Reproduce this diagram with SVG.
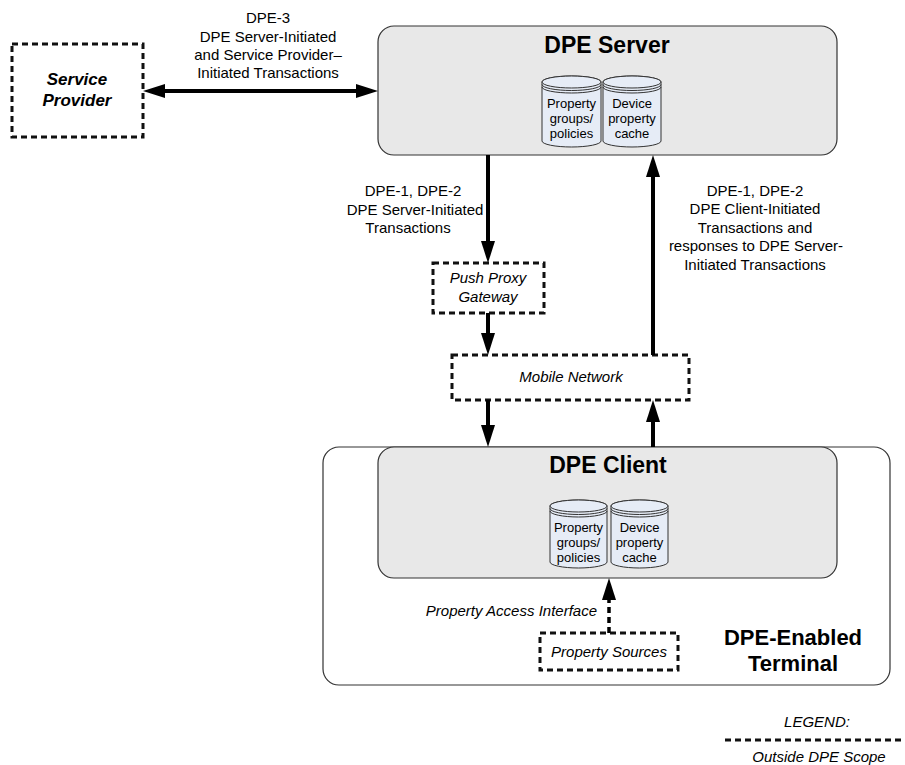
<svg xmlns="http://www.w3.org/2000/svg" width="905" height="765" viewBox="0 0 905 765">
<style>
text{font-family:"Liberation Sans",Arial,sans-serif;fill:#000}
.lbl{font-size:15px;text-anchor:middle}
.it{font-style:italic}
.title{font-size:23px;font-weight:bold;text-anchor:middle}
.title2{font-size:22px;font-weight:bold;text-anchor:middle}
.cyt{font-size:13px;text-anchor:middle}
.box{fill:#e8e8e8;stroke:#333;stroke-width:1.2}
.outer{fill:#fff;stroke:#333;stroke-width:1.2}
.dash{fill:#fff;stroke:#111;stroke-width:3;stroke-dasharray:6 4}
.cyl{fill:#e6ecf6;stroke:#333;stroke-width:1}
.cyl2{fill:none;stroke:#333;stroke-width:1}
.conn{stroke:#000;stroke-width:4;fill:none}
.dconn{stroke:#000;stroke-width:3.5;fill:none;stroke-dasharray:6 4}
</style>
<defs>
<marker id="ah" markerUnits="userSpaceOnUse" markerWidth="24" markerHeight="16" refX="2" refY="7" orient="auto-start-reverse">
<path d="M0,0 L22,7 L0,14 z" fill="#000"/>
</marker>
</defs>

<g id="terminal">
<rect class="outer" x="323" y="447" width="567" height="238" rx="16"/>
<text class="title2" x="793" y="645">DPE-Enabled</text>
<text class="title2" x="793" y="671">Terminal</text>
</g>

<g id="service-provider">
<rect class="dash" x="12" y="44" width="131" height="93"/>
<text x="77" y="85" style="font-size:17px;font-weight:bold;font-style:italic;text-anchor:middle">Service</text>
<text x="77" y="106" style="font-size:17px;font-weight:bold;font-style:italic;text-anchor:middle">Provider</text>
</g>

<g id="dpe-server">
<rect class="box" x="378" y="26" width="459" height="129" rx="16"/>
<text class="title" x="607" y="53">DPE Server</text>
<g id="server-db1">
<path class="cyl" d="M542,82 A29.5,6 0 0 1 601,82 L601,141 A29.5,6 0 0 1 542,141 Z"/>
<ellipse class="cyl" cx="571.5" cy="82" rx="29.5" ry="6"/>
<path class="cyl2" d="M542,84.5 A29.5,6 0 0 0 601,84.5 M542,87 A29.5,6 0 0 0 601,87"/>
<text class="cyt" x="571.5" y="108">Property</text>
<text class="cyt" x="571.5" y="123">groups/</text>
<text class="cyt" x="571.5" y="138">policies</text>
</g>
<g id="server-db2">
<path class="cyl" d="M603,82 A29,6 0 0 1 661,82 L661,141 A29,6 0 0 1 603,141 Z"/>
<ellipse class="cyl" cx="632" cy="82" rx="29" ry="6"/>
<path class="cyl2" d="M603,84.5 A29,6 0 0 0 661,84.5 M603,87 A29,6 0 0 0 661,87"/>
<text class="cyt" x="632" y="108">Device</text>
<text class="cyt" x="632" y="123">property</text>
<text class="cyt" x="632" y="138">cache</text>
</g>
</g>

<g id="push-proxy">
<rect class="dash" x="433" y="263" width="111" height="50"/>
<text class="lbl it" x="488" y="283">Push Proxy</text>
<text class="lbl it" x="488" y="302">Gateway</text>
</g>

<g id="mobile-network">
<rect class="dash" x="452" y="355" width="237" height="45"/>
<text class="lbl it" x="571" y="382">Mobile Network</text>
</g>

<g id="dpe-client">
<rect class="box" x="378" y="447" width="459" height="131" rx="16"/>
<text class="title" x="608" y="473">DPE Client</text>
<g id="client-db1">
<path class="cyl" d="M550,506 A28.5,6 0 0 1 607,506 L607,562 A28.5,6 0 0 1 550,562 Z"/>
<ellipse class="cyl" cx="578.5" cy="506" rx="28.5" ry="6"/>
<path class="cyl2" d="M550,508.5 A28.5,6 0 0 0 607,508.5 M550,511 A28.5,6 0 0 0 607,511"/>
<text class="cyt" x="578.5" y="532">Property</text>
<text class="cyt" x="578.5" y="547">groups/</text>
<text class="cyt" x="578.5" y="562">policies</text>
</g>
<g id="client-db2">
<path class="cyl" d="M611,506 A28.5,6 0 0 1 668,506 L668,562 A28.5,6 0 0 1 611,562 Z"/>
<ellipse class="cyl" cx="639.5" cy="506" rx="28.5" ry="6"/>
<path class="cyl2" d="M611,508.5 A28.5,6 0 0 0 668,508.5 M611,511 A28.5,6 0 0 0 668,511"/>
<text class="cyt" x="639.5" y="532">Device</text>
<text class="cyt" x="639.5" y="547">property</text>
<text class="cyt" x="639.5" y="562">cache</text>
</g>
</g>

<g id="property-sources">
<rect class="dash" x="540" y="633" width="138" height="37"/>
<text class="lbl it" x="609" y="657">Property Sources</text>
</g>

<g id="connectors">
<line class="conn" x1="163" y1="91" x2="358" y2="91" marker-start="url(#ah)" marker-end="url(#ah)"/>
<line class="conn" x1="488" y1="155" x2="488" y2="243" marker-end="url(#ah)"/>
<line class="conn" x1="488" y1="313" x2="488" y2="335" marker-end="url(#ah)"/>
<line class="conn" x1="488" y1="400" x2="488" y2="427" marker-end="url(#ah)"/>
<line class="conn" x1="653" y1="447" x2="653" y2="420" marker-end="url(#ah)"/>
<line class="conn" x1="653" y1="355" x2="653" y2="175" marker-end="url(#ah)"/>
<line class="dconn" x1="609" y1="633" x2="609" y2="598" marker-end="url(#ah)"/>
</g>

<g id="labels">
<text class="lbl" x="268" y="23">DPE-3</text>
<text class="lbl" x="268" y="42">DPE Server-Initiated</text>
<text class="lbl" x="268" y="60">and Service Provider–</text>
<text class="lbl" x="268" y="78">Initiated Transactions</text>
<text class="lbl" x="413" y="196">DPE-1, DPE-2</text>
<text class="lbl" x="415" y="215">DPE Server-Initiated</text>
<text class="lbl" x="408" y="233">Transactions</text>
<text class="lbl" x="755" y="196">DPE-1, DPE-2</text>
<text class="lbl" x="755" y="214">DPE Client-Initiated</text>
<text class="lbl" x="755" y="233">Transactions and</text>
<text class="lbl" x="756" y="251">responses to DPE Server-</text>
<text class="lbl" x="755" y="270">Initiated Transactions</text>
<text class="it" x="597" y="616" style="font-size:15px;text-anchor:end">Property Access Interface</text>
</g>

<g id="legend">
<text class="lbl it" x="817" y="727">LEGEND:</text>
<line x1="725" y1="740" x2="905" y2="740" style="stroke:#111;stroke-width:3;stroke-dasharray:6 4"/>
<text class="lbl it" x="819" y="762">Outside DPE Scope</text>
</g>
</svg>
